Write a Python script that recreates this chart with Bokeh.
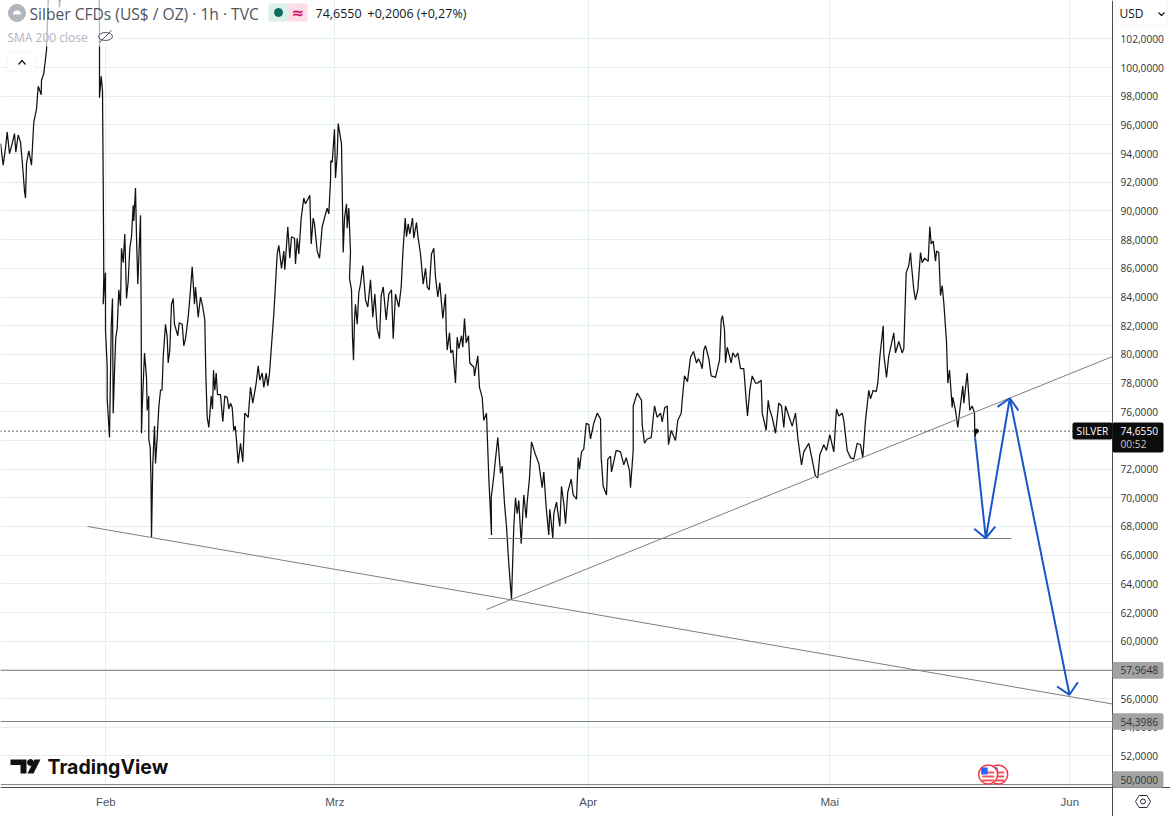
import math
from bokeh.plotting import figure
from bokeh.embed import file_html
from bokeh.resources import INLINE
from bokeh.models import Range1d, FixedTicker, Label, BoxAnnotation

# --- data: (bar slot on the time axis, silver close in US$/oz); one slot is about three hours
silver_jan = [(0,94.7),(2.7,93.2),(5,94.4),(6.7,95.5),(9,94.0),(11.7,94.7),(14,95.4),(15.3,94.1),(17.7,95.3),(20,94.8),
 (21.7,93.5),(24,91.4),(25,90.9),(26,93.3),(28.3,94.2),(31,93.2),(33.3,96.2),(36,97.1),(37.7,98.7),(40.7,98.1),(41,99.1),
 (43.3,99.6),(46,101.2),(47.7,104.7),(50,106),(55,110),(58.5,105),(59,104.2),(60,105),(65,112),(80,115),(96,112),(98.5,105),
 (99,103.1),(99,97.9),(100.7,99.4),(102,98.4),(102.7,92.1),(103.3,85.4)]
silver_feb = [(102.7,83.5),(105,85.7),(105,81.7),(106.7,79.1),(106.7,76.9),(109,74.2),(110.7,81.9),(112,83.9),(112.7,75.9),
 (114.3,79.4),(115.3,81.2),(116.7,81.8),(118.3,84.5),(120,83.4),(121,87.4),(122.7,86.4),(124.3,88.4),(126,83.9),(127.7,85.1),
 (129.3,87.4),(131,88.2),(132.7,90.4),(133.3,89.3),(135,91.6),(136,88.2),(137.3,84.9),(140,89.7),(140.7,82.4),(141,74.5),
 (141.7,76.3),(144,80.1),(146,78.4),(146.7,76.1),(148.3,77.1),(148.3,74.1),(149.7,73.5),(150.5,71.2),(151,67.2),(152.3,72.4),
 (154,75.0),(155,72.4),(156.7,74.2),(158.3,76.3),(160,77.5),(161.5,77.5),(162.7,79.8),(165,82.1),(166.7,81.2),(167.7,79.4),
 (169.3,80.3),(171,83.5),(172.7,83.9),(174,82.1),(177.3,81.3),(178.7,82.2),(181.7,82.1),(183.3,80.6),(185,81.1),(187.7,82.6),
 (189.3,83.9),(191.7,86.1),(194,83.5),(195,84.7),(197.7,82.6),(200,84),(202,83.4),(204.3,82.4),(205.3,78.7),(206.7,75.6),
 (208.3,74.9),(210.7,77.1),(212,76.2),(213,78.9),(214.3,77.5),(215.7,78.7),(217,77.2),(220,77.2),(222.3,75.3),(224.3,77.1),
 (226.7,77),(228.3,76.2),(230,76.6),(231.7,76.3),(233.3,74.7),(234.7,75),(236,74),(237.7,72.4),(240,73.8),(242.3,72.5),
 (244.3,75.9),(247.7,75.6),(250,77.7),(252.3,76.6),(255.7,78),(257.7,79.2),(259.3,78.2),(261.7,78.7),(263.3,77.7),(265.7,78.7),
 (267.3,77.8),(269,78.7),(271,80.6),(273.3,82.8),(276.7,87),(278.3,87.6),(281,86),(283.3,87.2),(284.3,85.9),(287.3,88.9),
 (289.3,86.7),(291,88.2),(294,88.1),(295,86.3),(296.7,88.1),(298.3,87),(300.7,89.5),(303.3,90.9),(305,90.5),(309.3,91.1),
 (310.7,87.7),(312.7,89.5),(314,89.1),(316.7,87.2),(319,86.7),(321.7,88.9),(324.3,89.6),(326.7,90.2),(328.3,89.8),(330,92.1)]
silver_mar = [(330.3,93.5),(331.7,93.4),(334,95.7),(335,92.3),(336.7,93.9),(337.7,96.1),(340,95.1),(341,94.7),(341.7,91.6),
 (342.7,87.1),(344,89.5),(346,90.5),(346.7,88.8),(348.3,90.2),(350,87.1),(349,85.3),(351,84.5),(352,81.2),(353,79.6),(354,82.4),
 (355,83.5),(356.7,82.1),(358.3,84.3),(360,84.9),(362.3,86.2),(365,83.8),(367.3,83.3),(370,85.2),(372.3,82.6),(374.3,84.2),
 (376.7,81.8),(379,81.1),(380.7,84.1),(382.7,84.7),(385.7,82.4),(388.3,84.2),(391,84.5),(392.7,81.1),(395,84.2),(398.3,83.3),
 (400.7,84.7),(402.3,87),(404.7,89.5),(406,88.2),(407.7,89.1),(409.3,88.4),(412,89.5),(413.3,88.1),(416,89.2),(417.3,88.3),
 (420,87),(422.7,84.9),(425,86),(426.7,84.7),(428.7,84.5),(431,87),(433.3,87.4),(435,85.4),(437.3,84),(439.3,85),(442.3,82.5),
 (445,84.2),(445.7,81.7),(446.7,80.3),(449,81.5),(450.3,80.1),(452.3,80.3),(455,78),(456.7,81.2),(458.3,80.4),(461,81.3),
 (462.3,80.5),(464,82.5),(465.7,80.8),(468,81.3),(469.3,79.4),(473.3,79.1),(474,78.5),(477.3,79.9),(479,77.7),(481.7,77),
 (483.3,75.4),(486,75.9),(488.3,71.4),(491,67.4),(490.7,70),(493.3,71.5),(495,72.7),(497.3,74.2),(500,71.7),(501.7,72.2),
 (504,69.6),(506,68),(508.3,65.4),(511,62.9),(513.3,68),(515,70),(516.7,68.9),(518.3,69.8),(520.7,66.8),(523.3,70.2),(525.7,68.6),
 (526.7,69.7),(529,71.4),(531,73.9),(535,73),(538.3,72.4),(541.7,70.7),(543.3,71.8),(545.7,69.3),(548.3,67.4),(549.3,69.2),
 (552.3,67.2),(553.3,68.9),(556,69.7),(559.3,68),(561,70.8),(563.3,69.6),(565,68.2),(567.3,70.4),(570.7,71.3),(572.7,70.2),
 (576,69.9),(577.7,72.8),(579,72),(581,73.2),(583.3,73.4),(585.7,75.2)]
silver_apr = [(588.3,75.1),(590,74.1),(593.3,75.2),(596.7,75.9),(600,75.5),(600.7,72.8),(602.7,70.8),(606,70.2),(607.3,72.7),
 (610,72.9),(611,71.8),(615.7,73.3),(620,73.2),(623.3,72.3),(625.7,72.8),(629,71.9),(630,70.7),(632.7,73.3),(632.7,76.4),
 (636.7,77.3),(641,76.8),(641.7,75.1),(644,73.8),(646.7,74.1),(650.7,74.2),(654,76.4),(656.7,75.6),(660,75.9),(661.7,75.3),
 (664.3,76.3),(666.7,76.4),(668,73.7),(670.7,74.7),(675,74),(677.3,75.4),(680.7,75.9),(681.7,76.8),(684,78.5),(687,78.1),
 (690,79.8),(693,80.2),(696,79.4),(698,79.7),(700,79.4),(701.7,79),(703.3,80.3),(705,80.6),(708.3,79.7),(710.7,78.5),(715,78.4),
 (716.7,78.9),(719,79.6),(720.7,82.4),(722,82.7),(724,81.7),(725,79.4),(726.7,80.5),(730.7,79.4),(732.3,80.1),(735,79.8),
 (737.3,80.1),(740,79),(743.3,79),(745.7,76.8),(747,75.7),(749.3,77.5),(751.7,78.5),(755,78),(757.3,78),(760.7,78.2),(761.7,75.9),
 (765.7,74.7),(767.7,76.8),(769,76.2),(771.7,75.6),(775,74.5),(778.3,76.6),(781,76.4),(783.3,74.9),(785,76.4),(788.3,75.7),
 (791.7,75),(795,75.9),(797.3,74.2),(799,73.3),(801,72.3),(803.3,73.2),(808.3,73.8),(810.7,73),(815,71.5),(817.3,71.4),(819.3,73),
 (823.3,73.7),(826,73.3),(829.3,74.4)]
silver_may = [(833.3,73.2),(836,76.2),(838.3,75.7),(841.7,75.9),(843.3,75.4),(846.7,73.3),(850,72.8),(853.3,72.7),(856.7,73.8),
 (860,73.7),(862.3,72.8),(865,75.4),(868.3,77.5),(870,76.9),(872.7,77.5),(875.7,77.4),(877.3,78),(879.3,79.8),(882.7,82),(883.3,80),
 (886,78.4),(888.3,79.9),(893.3,81.5),(895,80.1),(898.3,80.9),(901.7,80.1),(903.3,80.4),(905.7,85.7),(908.3,86.2),(910,87.1),
 (911,86.2),(913.3,84.5),(915,83.8),(917.3,84.5),(920,87.1),(921.7,86.4),(924,86.7),(927.7,86.5),(929.3,88.9),(930.7,87.7),
 (932.7,87.9),(935,86.5),(936,87.2),(938.3,87.1),(940,84.1),(941.7,84.8),(943.3,83.6),(946,80.9),(947.3,78),(949,78.9),(951.7,76.3),
 (952.3,77),(955,76.1),(957.3,74.9),(959.3,76.1),(962.3,77.8),(963.3,76.6),(966.7,78.7),(969.3,76.1),(971.7,76.4),(974,75.9),
 (974.3,74.2),(976,74.655)]

price_ticks = [52,54,56,58,60,62,64,66,68,70,72,74,76,78,80,82,84,86,88,90,92,94,96,98,100,102]
month_names = ["Feb", "Mrz", "Apr", "Mai", "Jun"]
month_slots = [105.3, 334.3, 587.7, 829.3, 1069.3]
last_price = 74.655
level_prices = [57.9648, 54.3986, 50.0]
level_labels = ["57,9648", "54,3986", "50,0000"]
support_line = ((87, 68.0), (1112, 55.62))
rising_line = ((486, 62.21), (1112, 79.85))
flat_line = ((488, 67.16), (1011, 67.16))
arrow_path = [(974.6, 74.2), (985.3, 67.18), (1009.3, 76.94), (1069, 56.26)]

GRID, AX = "#e3edf4", "#4a4c55"
TEXT = "#131722"
AXTEXT = "#2f3239"
BLUE = "#1a56c8"
FONT = "Open Sans"
RIGHT_EDGE = 1112
PX_PER_UNIT = 14.34

def price_at(py):
    return 102 - (py - 38.4) / PX_PER_UNIT

p = figure(width=1170, height=816, frame_width=1170, frame_height=816, output_backend="svg", toolbar_location=None,
           x_range=Range1d(0, 1170), y_range=Range1d(price_at(816), price_at(0)),
           y_axis_location="right", min_border_left=0, min_border_top=0, min_border_right=0, min_border_bottom=0)
p.outline_line_color = None
p.background_fill_color = "white"

ya, xa = p.yaxis[0], p.xaxis[0]
ya.fixed_location = RIGHT_EDGE
xa.fixed_location = price_at(787)
ya.ticker = FixedTicker(ticks=price_ticks)
ya.major_label_overrides = {v: f"{v},0000" for v in price_ticks}
ya.major_label_text_font = FONT
ya.major_label_text_font_size = "10.2px"
ya.major_label_text_color = AXTEXT
ya.major_label_standoff = 8
ya.major_tick_out = 0
ya.major_tick_in = 0
ya.minor_tick_out = 0
ya.minor_tick_in = 0
ya.axis_line_color = AX
xa.ticker = FixedTicker(ticks=month_slots)
xa.major_label_overrides = dict(zip(month_slots, month_names))
xa.major_label_text_font = "Liberation Sans"
xa.major_label_text_font_size = "11.5px"
xa.major_label_text_color = "#50535e"
xa.major_label_standoff = 8
xa.major_tick_out = 0
xa.major_tick_in = 0
xa.minor_tick_out = 0
xa.minor_tick_in = 0
xa.axis_line_color = AX
p.ygrid.grid_line_color = GRID
p.xgrid.grid_line_color = GRID

# price series
silver = silver_jan + silver_feb + silver_mar + silver_apr + silver_may
p.line([s for s, _ in silver], [c for _, c in silver], line_color="#111111", line_width=1.25)
p.scatter([silver[-1][0]], [silver[-1][1]], size=4, color="#111111")

# drawings
for line in (support_line, rising_line, flat_line):
    p.line([line[0][0], line[1][0]], [line[0][1], line[1][1]], line_color="#7f7f7f", line_width=1)
for lv in level_prices:
    p.line([0, RIGHT_EDGE], [lv, lv], line_color="#808080", line_width=1)
p.line([0, RIGHT_EDGE], [last_price, last_price], line_color="#000000", line_width=1.2, line_dash="1 3")

# blue path: open arrowheads with wings 45 degrees off the shaft
for a, b in zip(arrow_path[:-1], arrow_path[1:]):
    p.line([a[0], b[0]], [a[1], b[1]], line_color=BLUE, line_width=2)
    ang = math.atan2((b[1] - a[1]) * PX_PER_UNIT, b[0] - a[0])
    wx, wy = [], []
    for off in (math.pi * 0.75, -math.pi * 0.75):
        wx.append(b[0] + 15 * math.cos(ang + off))
        wy.append(b[1] + 15 * math.sin(ang + off) / PX_PER_UNIT)
    p.line([wx[0], b[0], wx[1]], [wy[0], b[1], wy[1]], line_color=BLUE, line_width=2)

# translucent legend backdrop, then the white axis panels
p.quad(left=[0, 0], right=[262, 118], top=[price_at(0), price_at(26)], bottom=[price_at(26), price_at(46)],
       fill_color="white", fill_alpha=0.7, line_color=None)
p.quad(left=[RIGHT_EDGE, 0], right=[1170, 1170], top=[price_at(0), price_at(787)], bottom=[price_at(816), price_at(816)],
       fill_color="white", line_color=None)

def txt(x, y, s, size, color=TEXT, font=FONT, style="normal", align="left"):
    p.add_layout(Label(x=x, y=y, text=s, text_font=font, text_font_size=size, text_color=color, level="overlay",
                       text_font_style=style, text_align=align, text_baseline="middle"))

def tag(x0, x1, y0, y1, color):
    p.add_layout(BoxAnnotation(left=x0, right=x1, top=price_at(y0), bottom=price_at(y1), fill_color=color,
                               fill_alpha=1, line_color=None, border_radius=2, level="annotation"))

# right hand tags
for lv, lb in zip(level_prices, level_labels):
    ymid = min(38.4 + (102 - lv) * PX_PER_UNIT, 779)
    tag(1112, 1163, ymid - 8.3, ymid + 8.3, "#a3a3a3")
    txt(1120, price_at(ymid), lb, "10.2px", AXTEXT)
tag(1072, 1112, 422, 439, "#0c0c0c")
txt(1092, price_at(430.5), "SILVER", "10.2px", "white", align="center")
tag(1112, 1163, 422, 452, "#0c0c0c")
txt(1120, price_at(430.5), "74,6550", "10.2px", "white")
txt(1120, price_at(443.5), "00:52", "10.2px", "#c8c8c8")

# legend
p.scatter([16.5], [price_at(12.5)], size=17, color="#b2b5be")
p.wedge([16.5], [price_at(14)], radius=4, start_angle=0, end_angle=3.14, fill_color="white", line_color=None)
txt(29, price_at(13), "Silber CFDs (US$ / OZ) · 1h · TVC", "15.6px", "#50535e")
p.quad(left=[268, 288], right=[288, 307], top=[price_at(3)] * 2, bottom=[price_at(21)] * 2,
       fill_color=["#d9f0ea", "#fbdce7"], line_color=None)
p.scatter([278], [price_at(12)], size=8, color="#0a6b5c")
txt(291, price_at(12), "≈", "15px", "#d6146a", font="DejaVu Sans", style="bold")
txt(315, price_at(13), "74,6550", "12.5px")
txt(367, price_at(13), "+0,2006 (+0,27%)", "12.5px")
txt(7, price_at(36.5), "SMA 200 close", "12px", "#b2b5be")
p.ellipse([105], [price_at(36)], width=14, height=0.55, fill_color=None, line_color="#50535e", line_width=1)
p.line([99, 111], [price_at(42), price_at(30)], line_color="#50535e", line_width=1)
p.add_layout(BoxAnnotation(left=7, right=35, top=price_at(52), bottom=price_at(71), fill_color="white", fill_alpha=1,
                           line_color="#e0e3eb", line_width=1, border_radius=3))
p.line([18, 21.5, 25], [price_at(64), price_at(60), price_at(64)], line_color="#131722", line_width=1.2, level="overlay")

# TradingView mark
p.patch([10, 26, 26, 20, 20, 10], [price_at(v) for v in (759, 759, 773, 773, 764.5, 764.5)], color="#111111", line_color=None)
p.scatter([30], [price_at(762)], size=6, color="#111111")
p.patch([34, 40, 33, 27], [price_at(v) for v in (759, 759, 773, 773)], color="#111111", line_color=None)
txt(47, price_at(766.5), "TradingView", "19.5px", "#111111", font="Inter", style="bold")

# event flags
for cx in (997.7, 987.7):
    p.scatter([cx], [price_at(774)], size=19, fill_color="white", line_color="#f23645", line_width=1.5)
    p.segment([cx - 6] * 3, [price_at(v) for v in (772, 776, 780)], [cx + 6] * 3, [price_at(v) for v in (772, 776, 780)],
              line_color="#f7525f", line_width=2)
    p.quad(left=[cx - 7], right=[cx - 0.5], top=[price_at(767)], bottom=[price_at(774)], fill_color="#2962ff", line_color=None)

# top right currency box
p.add_layout(BoxAnnotation(left=1115, right=1167, top=price_at(-4), bottom=price_at(25), fill_color="white", fill_alpha=1,
                           line_color="#e0e3eb", line_width=1, border_radius=3))
txt(1119, price_at(13), "USD", "12px")
p.line([1158, 1161, 1164], [price_at(12), price_at(15), price_at(12)], line_color=TEXT, line_width=1.2, level="overlay")

# settings icon
p.patch([1135, 1138.5, 1146.5, 1150, 1146.5, 1138.5, 1135], [price_at(v) for v in (801, 795, 795, 801, 807, 807, 801)],
        fill_alpha=0, line_color="#2a2e39", line_width=1)
p.scatter([1142.5], [price_at(801)], size=5, fill_color=None, line_color="#2a2e39", line_width=1)

open("out.html", "w").write(file_html(p, INLINE))
